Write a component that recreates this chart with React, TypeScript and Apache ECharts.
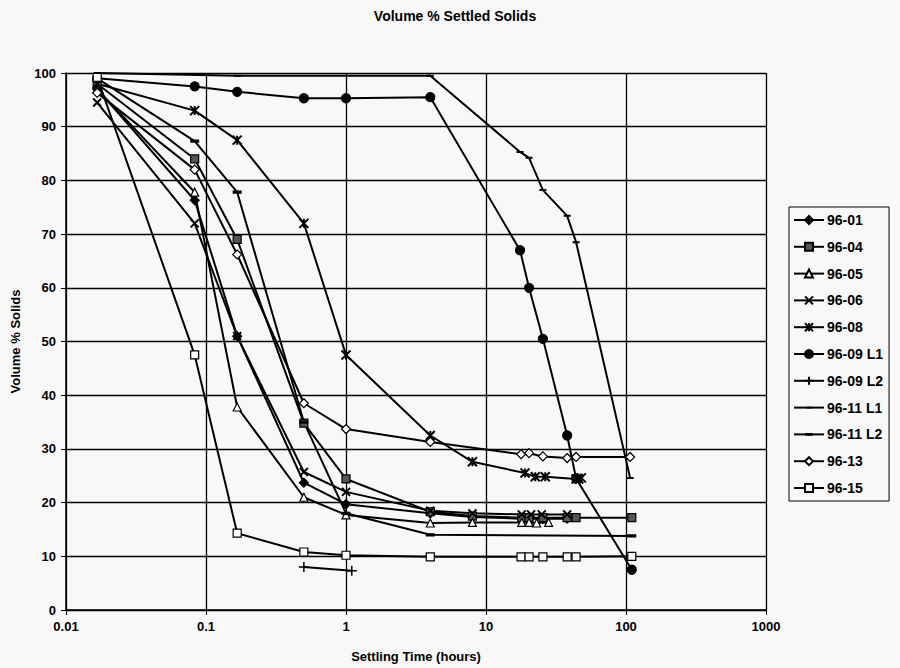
import React, { useEffect, useRef } from "react";
import * as echarts from "echarts";

// [hours, volume % solids]
const s9601: [number, number][] = [[0.0167, 97], [0.083, 76.3], [0.167, 51], [0.5, 23.7], [1, 19.7], [4, 18], [8, 17.3], [18, 17], [20.3, 17], [25.5, 17], [38, 17]];
const s9604: [number, number][] = [[0.0167, 98], [0.083, 84], [0.167, 69], [0.5, 34.8], [1, 24.4], [4, 18.3], [8, 17.5], [18, 17.2], [20.3, 17.2], [25.5, 17.2], [38, 17.2], [44, 17.2], [110, 17.2]];
const s9605: [number, number][] = [[0.0167, 97], [0.083, 77.8], [0.167, 37.8], [0.5, 21], [1, 17.7], [4, 16.2], [8, 16.3], [18, 16.3], [20.3, 16.3], [23, 16.2], [28, 16.3]];
const s9606: [number, number][] = [[0.0167, 94.5], [0.083, 72], [0.167, 51], [0.5, 25.7], [1, 22], [4, 18.5], [8, 18], [18, 17.8], [21, 17.8], [25, 17.8], [38, 17.8]];
const s9608: [number, number][] = [[0.0167, 98], [0.083, 93], [0.167, 87.5], [0.5, 72], [1, 47.5], [4, 32.5], [8, 27.6], [19, 25.5], [22.5, 24.8], [26.5, 24.8], [44, 24.4], [46, 24.4], [48, 24.6]];
const s9609L1: [number, number][] = [[0.0167, 99], [0.083, 97.5], [0.167, 96.5], [0.5, 95.3], [1, 95.3], [4, 95.5], [17.5, 67], [20.3, 60], [25.5, 50.5], [38, 32.5], [44, 24.5], [110, 7.5]];
const s9609L2: [number, number][] = [[0.5, 8], [1.1, 7.3]];
const s9611L1: [number, number][] = [[0.0167, 100], [0.167, 99.5], [4, 99.5], [17.5, 85.3], [20.3, 84.2], [25.5, 78.2], [38, 73.4], [44, 68.5], [107, 24.6]];
const s9611L2: [number, number][] = [[0.0167, 99], [0.083, 87.3], [0.167, 77.8], [0.5, 35], [1, 18], [4, 14], [110, 13.8]];
const s9613: [number, number][] = [[0.0167, 96.3], [0.083, 82], [0.167, 66.2], [0.5, 38.5], [1, 33.7], [4, 31.3], [17.8, 29], [20.3, 29.2], [25.5, 28.6], [38, 28.3], [44, 28.5], [107, 28.5]];
const s9615: [number, number][] = [[0.0167, 99.2], [0.083, 47.5], [0.167, 14.3], [0.5, 10.8], [1, 10.2], [4, 9.9], [17.8, 9.9], [20.3, 9.9], [25.5, 9.9], [38, 9.9], [44, 9.9], [110, 10]];

const FONT = "Liberation Sans, Arial, sans-serif";
// padded square bounding box so the dash keeps its thin shape at any square size
const DASH_THIN = "path://M0,0L0.01,0L0.01,0.01ZM1.5,4L8.5,4L8.5,6L1.5,6ZM10,10L9.99,10L9.99,9.99Z";
const DASH_THICK = "path://M0,0L0.01,0L0.01,0.01ZM0.5,3.4L9.5,3.4L9.5,6.6L0.5,6.6ZM10,10L9.99,10L9.99,9.99Z";

function mk(name: string, data: [number, number][], symbol: string, size: any, fill: string, bw = 1.2) {
  return {
    name,
    type: "line",
    data,
    symbol,
    symbolSize: size,
    showSymbol: true,
    lineStyle: { color: "#000", width: 2 },
    itemStyle: { color: fill, borderColor: "#000", borderWidth: bw },
    emphasis: { disabled: true },
  };
}

export default function App() {
  const ref = useRef<HTMLDivElement>(null);
  useEffect(() => {
    if (!ref.current) return;
    const chart = echarts.init(ref.current, null, { renderer: "svg" });
    chart.setOption({
      animation: false,
      backgroundColor: "#f8f8f8",
      title: {
        text: "Volume % Settled Solids",
        left: 450,
        textAlign: "center",
        top: 4,
        textStyle: { fontFamily: FONT, fontWeight: "bold", fontSize: 14, color: "#000" },
      },
      grid: { left: 66, right: 134, top: 73, bottom: 58 },
      legend: {
        orient: "vertical",
        left: 789,
        top: 207,
        itemWidth: 30,
        itemHeight: 10,
        itemGap: 12.8,
        padding: [6, 6, 6, 4],
        borderColor: "#000",
        borderWidth: 1,
        textStyle: { fontFamily: FONT, fontWeight: "bold", fontSize: 14, color: "#000", padding: [0, 0, 0, -2] },
        data: ["96-01", "96-04", "96-05", "96-06", "96-08", "96-09 L1", "96-09 L2", "96-11 L1", "96-11 L2", "96-13", "96-15"],
      },
      xAxis: {
        type: "log",
        logBase: 10,
        min: 0.01,
        max: 1000,
        name: "Settling Time (hours)",
        nameLocation: "middle",
        nameGap: 40,
        nameTextStyle: { fontFamily: FONT, fontWeight: "bold", fontSize: 13, color: "#000" },
        axisLine: { lineStyle: { color: "#000", width: 1.5 } },
        axisTick: { show: true, length: 5, lineStyle: { color: "#000" } },
        minorTick: { show: false },
        splitLine: { show: true, lineStyle: { color: "#000", width: 1.3 } },
        axisLabel: {
          fontFamily: FONT,
          fontWeight: "bold",
          fontSize: 13,
          color: "#000",
          margin: 10,
          formatter: (v: number) => {
            const n = Math.round(Math.log10(v));
            return n < 0 ? Math.pow(10, n).toFixed(-n) : String(Math.pow(10, n));
          },
        },
      },
      yAxis: {
        type: "value",
        min: 0,
        max: 100,
        interval: 10,
        name: "Volume % Solids",
        nameLocation: "middle",
        nameGap: 44,
        nameTextStyle: { fontFamily: FONT, fontWeight: "bold", fontSize: 13, color: "#000" },
        axisLine: { show: true, lineStyle: { color: "#000", width: 1.5 } },
        axisTick: { show: true, length: 5, lineStyle: { color: "#000" } },
        splitLine: { show: true, lineStyle: { color: "#000", width: 1.3 } },
        axisLabel: { fontFamily: FONT, fontWeight: "bold", fontSize: 13, color: "#000", margin: 10 },
      },
      series: [
        mk("96-01", s9601, "diamond", 9, "#000"),
        mk("96-04", s9604, "rect", 8, "#555"),
        mk("96-05", s9605, "triangle", 8, "#fff"),
        mk("96-06", s9606, "path://M0,0L10,10M10,0L0,10", 8, "#000", 2),
        mk("96-08", s9608, "path://M0,0L10,10M10,0L0,10M5,0L5,10", 9, "#000", 2),
        mk("96-09 L1", s9609L1, "circle", 9, "#000"),
        mk("96-09 L2", s9609L2, "path://M5,0L5,10M0,5L10,5", 10, "#000", 1.5),
        mk("96-11 L1", s9611L1, DASH_THIN, 10, "#000", 0),
        mk("96-11 L2", s9611L2, DASH_THICK, 10, "#000", 0),
        mk("96-13", s9613, "diamond", 9, "#fff"),
        mk("96-15", s9615, "rect", 8, "#fff"),
      ],
    });
    return () => chart.dispose();
  }, []);
  return <div ref={ref} style={{ position: "absolute", left: 0, top: 0, width: 900, height: 668 }} />;
}
